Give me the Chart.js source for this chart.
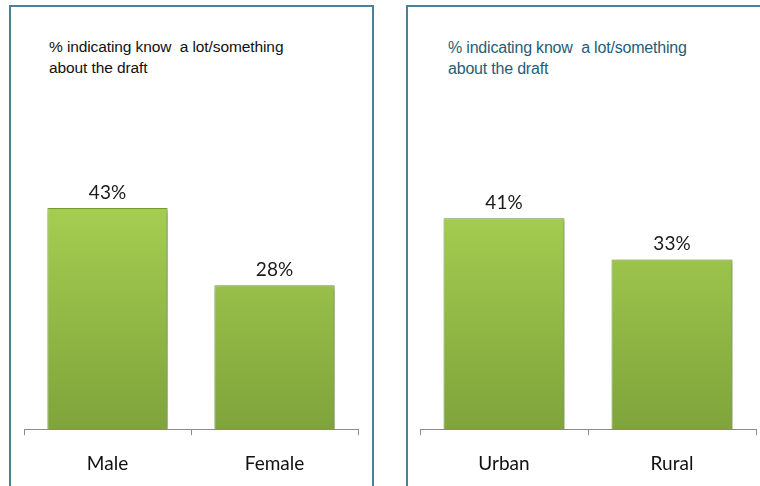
<!DOCTYPE html>
<html>
<head>
<meta charset="utf-8">
<script src="https://cdn.jsdelivr.net/npm/chart.js@4"></script>
<style>
  html, body { margin: 0; padding: 0; width: 760px; height: 486px; overflow: hidden; background: #fff; }
  .panel { position: absolute; border: 2px solid #4A8199; box-sizing: border-box; }
  #p1 { left: 9px; top: 5px; width: 365px; height: 500px; }
  #p2 { left: 406px; top: 5px; width: 400px; height: 500px; }
  .ttl { position: absolute; font-family: "Liberation Sans", Arial, sans-serif; line-height: 21px; white-space: pre; }
  #t1 { left: 49px; top: 36px; font-size: 15.5px; color: #111; letter-spacing: -0.1px; }
  #t2 { left: 448px; top: 37px; font-size: 16px; color: #1F5E78; letter-spacing: -0.2px; }
  canvas { position: absolute; top: 0; }
  #wrap1 { position: absolute; left: 0; top: 0; width: 380px; height: 492px; }
  #wrap2 { position: absolute; left: 380px; top: 0; width: 380px; height: 492px; }
</style>
</head>
<body>
<div class="panel" id="p1"></div>
<div class="panel" id="p2"></div>
<div class="ttl" id="t1">% indicating know  a lot/something
about the draft</div>
<div class="ttl" id="t2">% indicating know  a lot/something
about the draft</div>
<div id="wrap1"><canvas id="c1"></canvas></div>
<div id="wrap2"><canvas id="c2"></canvas></div>
<script>
const genderCategories = ["Male", "Female"];
const genderValues = [43, 28];
const areaCategories = ["Urban", "Rural"];
const areaValues = [41, 33];

function barFill(ctx) {
  const chart = ctx.chart;
  const a = chart.chartArea;
  if (!a) return '#94BE45';
  const g = chart.ctx.createLinearGradient(0, a.top + 80, 0, a.bottom);
  g.addColorStop(0, '#A9D353');
  g.addColorStop(1, '#7FA43B');
  return g;
}

const valueLabels = {
  id: 'valueLabels',
  afterDatasetsDraw(chart) {
    const ctx = chart.ctx;
    const meta = chart.getDatasetMeta(0);
    const data = chart.data.datasets[0].data;
    ctx.save();
    ctx.font = '19px Lato, "Open Sans", sans-serif';
    ctx.fillStyle = '#1a1a1a';
    ctx.textAlign = 'center';
    ctx.textBaseline = 'bottom';
    meta.data.forEach((bar, i) => {
      ctx.fillText(data[i] + '%', bar.x, bar.y - 6);
    });
    ctx.restore();
  }
};

const barShadow = {
  id: 'barShadow',
  beforeDatasetsDraw(chart) {
    const ctx = chart.ctx;
    ctx.save();
    ctx.shadowColor = 'rgba(0,0,0,0.35)';
    ctx.shadowBlur = 4;
    ctx.shadowOffsetX = 2;
    ctx.shadowOffsetY = 2;
  },
  afterDatasetsDraw(chart) {
    chart.ctx.restore();
  }
};

function makeChart(id, cats, vals, padL, padR) {
  return new Chart(document.getElementById(id), {
    type: 'bar',
    data: {
      labels: cats,
      datasets: [{
        data: vals,
        backgroundColor: barFill,
        borderColor: '#78A034',
        borderWidth: 1,
        barPercentage: 0.72,
        categoryPercentage: 1.0
      }]
    },
    options: {
      responsive: true,
      maintainAspectRatio: false,
      animation: false,
      layout: { padding: { left: padL, right: padR, top: 100, bottom: 0 } },
      plugins: { legend: { display: false }, tooltip: { enabled: false } },
      scales: {
        y: { display: false, min: 0, max: 64 },
        x: {
          grid: { offset: true, drawOnChartArea: false, tickLength: 6, color: '#8c8c8c', lineWidth: 1 },
          border: { display: true, color: '#8c8c8c', width: 1 },
          ticks: { color: '#111', padding: 17, font: { family: 'Lato, "Open Sans", sans-serif', size: 19 } }
        }
      }
    },
    plugins: [barShadow, valueLabels]
  });
}

makeChart('c1', genderCategories, genderValues, 24, 22);
makeChart('c2', areaCategories, areaValues, 40, 4);
</script>
</body>
</html>
